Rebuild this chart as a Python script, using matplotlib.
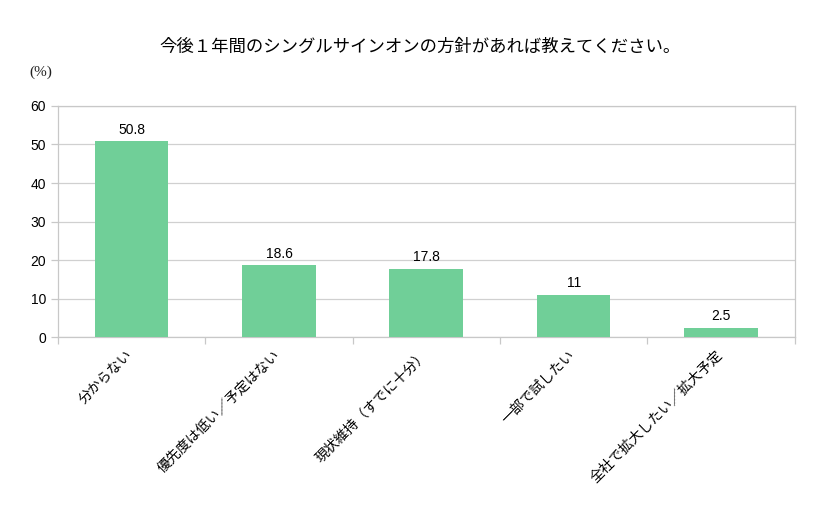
import numpy as np
import matplotlib.pyplot as plt
import matplotlib.transforms as mtransforms
from matplotlib.ticker import FixedLocator

plt.rcParams['font.family'] = ['Liberation Sans', 'Noto Sans CJK JP', 'DejaVu Sans']

# data
categories = ['分からない', '優先度は低い／予定はない', '現状維持（すでに十分）',
              '一部で試したい', '全社で拡大したい／拡大予定']
values = [50.8, 18.6, 17.8, 11, 2.5]
value_labels = ['50.8', '18.6', '17.8', '11', '2.5']

fig = plt.figure(figsize=(8.4, 5.07), dpi=100)
ax = fig.add_axes([0.069, 0.335, 0.877, 0.456])

x = np.arange(len(categories))
ax.bar(x, values, width=0.5, color='#70CF98', zorder=3)
for xi, v, lab in zip(x, values, value_labels):
    ax.text(xi, v + 1.2, lab, ha='center', va='bottom', fontsize=10)

ax.set_xlim(-0.5, len(categories) - 0.5)
ax.set_ylim(0, 60)
ax.set_yticks(np.arange(0, 61, 10))
ax.yaxis.grid(True, color='#d0d0d0', linewidth=0.9, zorder=0)

# category labels at bar centres, tick marks at the boundaries
ax.set_xticks(x)
ax.set_xticklabels(categories, rotation=45, ha='right', rotation_mode='anchor', fontsize=10)
ax.tick_params(axis='x', length=0, pad=12)
shift = mtransforms.ScaledTranslation(-0.06, 0.06, fig.dpi_scale_trans)
for lbl in ax.get_xticklabels():
    lbl.set_transform(lbl.get_transform() + shift)
ax.xaxis.set_minor_locator(FixedLocator(np.arange(-0.5, len(categories), 1)))
ax.tick_params(axis='x', which='minor', length=5, color='#c8c8c8', width=0.9)
ax.tick_params(axis='y', length=5, color='#c8c8c8', width=0.9, labelsize=10)

for s in ax.spines.values():
    s.set_color('#c8c8c8')
    s.set_linewidth(0.9)

fig.text(0.5, 0.907, '今後１年間のシングルサインオンの方針があれば教えてください。',
         ha='center', va='center', fontsize=12.5)
fig.text(0.049, 0.857, '(%)', ha='center', va='center', fontsize=11,
         family=['Liberation Serif', 'DejaVu Serif'], color='#222222')

fig.savefig('out.png', dpi=100)
